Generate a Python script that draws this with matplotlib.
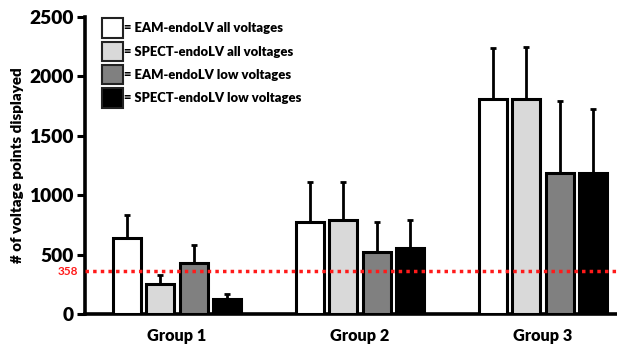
import matplotlib
matplotlib.use("Agg")
import matplotlib.pyplot as plt
import numpy as np
from matplotlib.patches import Patch

groups = ["Group 1", "Group 2", "Group 3"]
series = ["EAM-endoLV all voltages", "SPECT-endoLV all voltages",
          "EAM-endoLV low voltages", "SPECT-endoLV low voltages"]
colors = ["#ffffff", "#d9d9d9", "#808080", "#000000"]
means = {
    "EAM-endoLV all voltages":   [637, 777, 1807],
    "SPECT-endoLV all voltages": [252, 791, 1807],
    "EAM-endoLV low voltages":   [427, 524, 1184],
    "SPECT-endoLV low voltages": [126, 556, 1184],
}
sds = {
    "EAM-endoLV all voltages":   [196, 334, 429],
    "SPECT-endoLV all voltages": [76, 320, 443],
    "EAM-endoLV low voltages":   [154, 250, 606],
    "SPECT-endoLV low voltages": [42, 235, 544],
}
threshold = 358
yticks = [0, 500, 1000, 1500, 2000, 2500]

plt.rcParams['font.family'] = ['Lato', 'DejaVu Sans']
plt.rcParams['font.weight'] = 'bold'

fig = plt.figure(figsize=(6.17, 3.44), dpi=100)
ax = fig.add_axes([85/617, 1-314/344, 1-85/617, (314-17)/344])

x = np.arange(len(groups))
pitch = 0.182
width = 0.153
for i, s in enumerate(series):
    pos = x + (i - 1.5) * pitch
    ax.bar(pos, means[s], width=width, color=colors[i], edgecolor='black',
           linewidth=2.2, zorder=3)
    ax.errorbar(pos, means[s], yerr=[np.zeros(len(groups)), sds[s]], fmt='none',
                ecolor='black', elinewidth=2, capsize=2.5, capthick=2, zorder=2)

ax.axhline(threshold, color='#ff1a1a', linestyle=(0, (1, 1.2)), linewidth=2.5, zorder=4)
ax.text(-0.012, threshold, str(threshold), color='#ff1a1a', fontsize=8.5,
        ha='right', va='center', transform=ax.get_yaxis_transform(), fontweight='bold')

ax.set_xlim(-0.503, 2.404)
ax.set_ylim(0, 2500)
ax.set_yticks(yticks)
ax.set_yticklabels([str(t) for t in yticks], fontsize=13.8, fontweight='heavy')
ax.set_xticks(x)
ax.set_xticklabels(groups, fontsize=11.7, fontweight='heavy')
ax.tick_params(axis='x', length=0, pad=10)
ax.tick_params(axis='y', length=6, width=2.2, pad=2)
for sp in ['top', 'right']:
    ax.spines[sp].set_visible(False)
for sp in ['left', 'bottom']:
    ax.spines[sp].set_linewidth(2.6)
ax.set_ylabel("# of voltage points displayed", fontsize=10.9, fontweight='heavy', labelpad=4)

handles = [Patch(facecolor=colors[i], edgecolor='#222222', linewidth=1.5) for i in range(4)]
leg = ax.legend(handles, ["= " + s for s in series], loc='upper left',
                bbox_to_anchor=(0.032, 0.995), frameon=False, fontsize=9.4,
                handlelength=1.6, handleheight=1.9, handletextpad=0.1,
                labelspacing=0.3, borderaxespad=0, borderpad=0)
for t in leg.get_texts():
    t.set_fontweight('heavy')

fig.savefig("out.png", dpi=100)
